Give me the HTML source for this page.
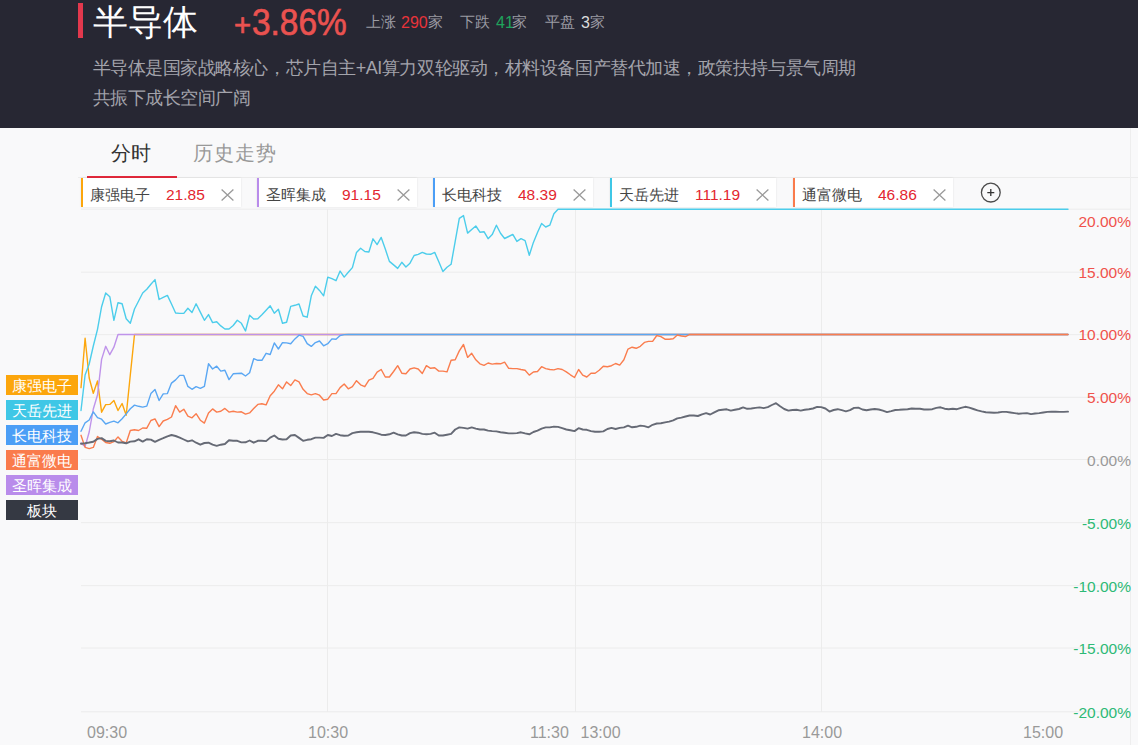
<!DOCTYPE html>
<html><head><meta charset="utf-8">
<style>
html,body{margin:0;padding:0}
body{width:1138px;height:745px;overflow:hidden;background:#f9f9fa;position:relative;font-family:"Liberation Sans",sans-serif}
.a{position:absolute;white-space:nowrap}
.hdr{position:absolute;left:0;top:0;width:1138px;height:128px;background:#272733}
.bar{position:absolute;left:78px;top:3px;width:4.7px;height:35px;background:#e2384d}
.title{left:93px;top:-2px;font-size:35px;line-height:48px;color:#fff}
.pct{left:234px;top:2px;font-size:35px;line-height:40px;color:#ea5250;-webkit-text-stroke:0.7px #ea5250;transform:scaleX(0.945);transform-origin:0 0}
.st{top:13px;font-size:15px;line-height:18px;color:#9b9ba3}
.desc{left:92.5px;top:52.8px;font-size:18px;letter-spacing:-0.45px;line-height:30px;color:#a3a3ab}
.tab{top:140px;font-size:20px;line-height:26px}
.ul{position:absolute;left:87px;top:175.5px;width:90px;height:2.5px;background:#e3293b}
.rowline{position:absolute;left:78px;top:177px;width:1060px;height:1px;background:#ececec}
.chip{position:absolute;top:178px;height:29px;background:#fff;box-shadow:0 0 2px rgba(0,0,0,0.10)}
.chip i{position:absolute;left:0;top:0;width:2px;height:29px}
.chip .n{position:absolute;top:8px;font-size:15px;line-height:18px;color:#444;white-space:nowrap}
.chip .p{position:absolute;top:7.5px;font-size:15.5px;line-height:18px;color:#e3262f;white-space:nowrap}
.chip svg{position:absolute;top:11px}
.vb{position:absolute;left:1130px;top:128px;width:1px;height:617px;background:#eeeeee}
.lg{position:absolute;left:6px;width:72px;height:19.5px;color:#fff;font-size:15px;line-height:21px;text-align:center}
.yl{position:absolute;right:7px;font-size:15.5px;line-height:18px;text-align:right}
.xl{position:absolute;top:723.5px;font-size:16px;line-height:18px;color:#999}
</style></head><body>
<div class="hdr"></div>
<div class="bar"></div>
<div class="a title">半导体</div>
<div class="a pct" style="left:233.5px;top:5.5px;font-size:31px">+</div><div class="a pct" style="left:251.5px;top:2.5px;font-size:36.5px;transform:scaleX(0.915)">3.86%</div>
<div class="a st" style="left:366px">上涨</div><div class="a st" style="top:13.7px;font-size:16px;left:401px;color:#e8333a">290</div><div class="a st" style="left:428px">家</div>
<div class="a st" style="left:460px">下跌</div><div class="a st" style="top:13.7px;font-size:16px;left:496px;color:#1fa35c">41</div><div class="a st" style="left:512px">家</div>
<div class="a st" style="left:545px">平盘</div><div class="a st" style="top:13.7px;font-size:16px;left:581px;color:#dcdcdc">3</div><div class="a st" style="left:590px">家</div>
<div class="a desc">半导体是国家战略核心，芯片自主+AI算力双轮驱动，材料设备国产替代加速，政策扶持与景气周期<br>共振下成长空间广阔</div>

<div class="a tab" style="left:111px;color:#333">分时</div>
<div class="a tab" style="left:193px;color:#999;letter-spacing:1px">历史走势</div>
<div class="rowline"></div>
<div class="ul"></div>

<div class="chip" style="left:81px;width:160px"><i style="background:#fca60c"></i><span class="n" style="left:9px">康强电子</span><span class="p" style="left:85px">21.85</span><svg style="left:140px" width="13" height="12" viewBox="0 0 13 12"><path d="M0.6 0.5L12.4 11.5M12.4 0.5L0.6 11.5" stroke="#9a9a9a" stroke-width="1.3" fill="none"/></svg></div>
<div class="chip" style="left:257px;width:160px"><i style="background:#b98ceb"></i><span class="n" style="left:9px">圣晖集成</span><span class="p" style="left:85px">91.15</span><svg style="left:140px" width="13" height="12" viewBox="0 0 13 12"><path d="M0.6 0.5L12.4 11.5M12.4 0.5L0.6 11.5" stroke="#9a9a9a" stroke-width="1.3" fill="none"/></svg></div>
<div class="chip" style="left:433px;width:160px"><i style="background:#4b9ef6"></i><span class="n" style="left:9px">长电科技</span><span class="p" style="left:85px">48.39</span><svg style="left:140px" width="13" height="12" viewBox="0 0 13 12"><path d="M0.6 0.5L12.4 11.5M12.4 0.5L0.6 11.5" stroke="#9a9a9a" stroke-width="1.3" fill="none"/></svg></div>
<div class="chip" style="left:610px;width:166px"><i style="background:#3fc7e6"></i><span class="n" style="left:9px">天岳先进</span><span class="p" style="left:85px">111.19</span><svg style="left:146px" width="13" height="12" viewBox="0 0 13 12"><path d="M0.6 0.5L12.4 11.5M12.4 0.5L0.6 11.5" stroke="#9a9a9a" stroke-width="1.3" fill="none"/></svg></div>
<div class="chip" style="left:793px;width:160px"><i style="background:#fa7b4c"></i><span class="n" style="left:9px">通富微电</span><span class="p" style="left:85px">46.86</span><svg style="left:140px" width="13" height="12" viewBox="0 0 13 12"><path d="M0.6 0.5L12.4 11.5M12.4 0.5L0.6 11.5" stroke="#9a9a9a" stroke-width="1.3" fill="none"/></svg></div>
<svg class="a" style="left:980px;top:182px" width="22" height="22" viewBox="0 0 22 22"><circle cx="10.8" cy="10.6" r="9.4" stroke="#4a4a4a" stroke-width="1.3" fill="none"/><path d="M7.3 10.6H14.3M10.8 7.1V14.1" stroke="#333" stroke-width="1.3"/></svg>

<div class="vb"></div>
<svg class="a" style="left:0;top:0" width="1138" height="745">
<g stroke="#ececec" stroke-width="1" fill="none"><line x1="81" y1="209.2" x2="1130.5" y2="209.2"/><line x1="81" y1="272.2" x2="1130.5" y2="272.2"/><line x1="81" y1="334.7" x2="1130.5" y2="334.7"/><line x1="81" y1="397.3" x2="1130.5" y2="397.3"/><line x1="81" y1="459.5" x2="1130.5" y2="459.5"/><line x1="81" y1="522.7" x2="1130.5" y2="522.7"/><line x1="81" y1="585.7" x2="1130.5" y2="585.7"/><line x1="81" y1="648.0" x2="1130.5" y2="648.0"/><line x1="81" y1="711.8" x2="1130.5" y2="711.8"/><line x1="327.5" y1="209" x2="327.5" y2="712"/><line x1="575.5" y1="209" x2="575.5" y2="712"/><line x1="821.5" y1="209" x2="821.5" y2="712"/></g>
<g fill="none" stroke-width="1.4" stroke-linejoin="round" stroke-linecap="round"><path d="M81.0 387.6 L85.1 338.2 L89.2 378.0 L93.3 393.2 L97.5 381.0 L101.6 412.2 L105.7 404.6 L109.8 404.4 L113.9 400.6 L118.0 410.5 L122.1 403.5 L126.2 415.3 L130.3 375.0 L134.5 334.5 L1068.0 334.5" stroke="#fca60c"/><path d="M81.0 443.0 L85.1 446.6 L89.2 432.0 L93.3 409.0 L97.5 395.0 L101.6 359.4 L105.7 346.3 L109.8 354.7 L113.9 347.2 L118.0 334.5 L1068.0 334.5" stroke="#bf93ea"/><path d="M81.0 431.3 L85.1 422.8 L89.2 420.0 L93.3 411.9 L97.5 417.6 L101.6 419.2 L105.7 424.0 L109.8 422.4 L113.9 421.2 L118.0 422.8 L122.1 418.8 L126.2 413.9 L130.3 408.7 L134.5 405.1 L138.6 406.3 L142.7 407.1 L146.8 406.1 L150.9 393.6 L155.0 389.6 L159.1 400.5 L163.2 393.9 L167.4 393.6 L171.5 383.1 L175.6 379.9 L179.7 375.4 L183.8 375.4 L187.9 386.4 L192.0 389.3 L196.1 386.7 L200.3 388.3 L204.4 386.4 L208.5 363.8 L212.6 369.0 L216.7 366.2 L220.8 371.1 L224.9 370.3 L229.0 379.6 L233.2 373.8 L237.3 373.5 L241.4 373.2 L245.5 376.0 L249.6 372.8 L253.7 358.7 L257.8 360.3 L261.9 360.3 L266.1 353.3 L270.2 354.5 L274.3 342.9 L278.4 349.0 L282.5 342.6 L286.6 342.9 L290.7 343.7 L294.9 338.9 L299.0 335.2 L303.1 336.4 L307.2 343.7 L311.3 346.4 L315.4 342.6 L319.5 341.0 L323.6 345.8 L327.8 343.7 L331.9 338.9 L336.0 339.3 L340.1 335.6 L344.2 334.6 L348.3 334.5 L1068.0 334.5" stroke="#5aa7f3"/><path d="M81.0 435.3 L85.1 447.4 L89.2 448.6 L93.3 447.4 L97.5 436.5 L101.6 439.3 L105.7 442.5 L109.8 443.3 L113.9 441.7 L118.0 436.9 L122.1 441.3 L126.2 443.0 L130.3 430.5 L134.5 429.8 L138.6 430.5 L142.7 428.0 L146.8 428.2 L150.9 420.5 L155.0 418.9 L159.1 426.6 L163.2 421.0 L167.4 419.4 L171.5 417.0 L175.6 405.7 L179.7 412.1 L183.8 409.2 L187.9 416.2 L192.0 417.8 L196.1 413.7 L200.3 420.2 L204.4 423.1 L208.5 412.9 L212.6 408.9 L216.7 412.1 L220.8 411.3 L224.9 408.4 L229.0 412.1 L233.2 411.3 L237.3 412.1 L241.4 411.8 L245.5 414.1 L249.6 412.9 L253.7 408.6 L257.8 404.4 L261.9 403.8 L266.1 404.9 L270.2 395.7 L274.3 391.2 L278.4 384.8 L282.5 388.8 L286.6 381.9 L290.7 385.6 L294.9 379.9 L299.0 381.9 L303.1 389.3 L307.2 393.6 L311.3 394.9 L315.4 393.6 L319.5 395.2 L323.6 400.0 L327.8 399.2 L331.9 393.6 L336.0 393.6 L340.1 387.6 L344.2 384.0 L348.3 388.8 L352.4 386.7 L356.5 380.7 L360.6 384.8 L364.8 386.7 L368.9 380.2 L373.0 378.3 L377.1 372.2 L381.2 369.5 L385.3 377.0 L389.4 377.0 L393.6 371.5 L397.7 365.7 L401.8 373.2 L405.9 373.8 L410.0 369.0 L414.1 367.8 L418.2 369.0 L422.3 373.5 L426.4 365.7 L430.6 368.3 L434.7 367.8 L438.8 371.1 L442.9 371.1 L447.0 371.9 L451.1 360.3 L455.2 359.8 L459.3 350.9 L463.5 344.5 L467.6 357.4 L471.7 353.3 L475.8 359.8 L479.9 363.8 L484.0 365.4 L488.1 363.0 L492.2 364.1 L496.4 363.5 L500.5 363.8 L504.6 362.2 L508.7 368.3 L512.8 368.6 L516.9 368.6 L521.0 369.5 L525.1 370.3 L529.3 375.1 L533.4 372.0 L537.5 371.5 L541.6 366.7 L545.7 368.6 L549.8 369.5 L553.9 369.9 L558.0 368.6 L562.2 369.5 L566.3 371.9 L570.4 374.8 L574.5 377.5 L578.6 369.5 L582.7 375.1 L586.8 377.0 L591.0 373.2 L595.1 373.2 L599.2 370.3 L603.3 366.2 L607.4 366.7 L611.5 365.7 L615.6 363.5 L619.7 365.1 L623.9 359.7 L628.0 349.1 L632.1 347.2 L636.2 348.3 L640.3 346.3 L644.4 342.4 L648.5 341.4 L652.6 341.4 L656.8 335.5 L660.9 336.6 L665.0 339.2 L669.1 339.2 L673.2 338.7 L677.3 335.0 L681.4 336.0 L685.5 336.6 L689.6 334.5 L1068.0 334.5" stroke="#fa7d4e"/><path d="M81.0 410.5 L85.1 375.0 L89.2 364.0 L93.3 346.0 L97.5 329.3 L101.6 306.7 L105.7 293.0 L109.8 296.7 L113.9 320.4 L118.0 302.7 L122.1 303.8 L126.2 318.8 L130.3 323.3 L134.5 309.0 L138.6 301.0 L142.7 293.0 L146.8 289.3 L150.9 284.2 L155.0 279.6 L159.1 299.5 L163.2 297.4 L167.4 295.4 L171.5 304.0 L175.6 313.0 L179.7 313.4 L183.8 313.4 L187.9 308.3 L192.0 312.5 L196.1 303.8 L200.3 312.1 L204.4 320.3 L208.5 314.6 L212.6 322.6 L216.7 321.7 L220.8 325.9 L224.9 329.0 L229.0 329.0 L233.2 325.5 L237.3 320.3 L241.4 323.3 L245.5 331.0 L249.6 315.2 L253.7 319.0 L257.8 318.7 L261.9 314.8 L266.1 310.2 L270.2 305.8 L274.3 313.2 L278.4 309.3 L282.5 323.2 L286.6 322.2 L290.7 306.4 L294.9 305.3 L299.0 304.0 L303.1 316.0 L307.2 317.2 L311.3 295.8 L315.4 286.2 L319.5 290.4 L323.6 295.8 L327.8 277.1 L331.9 278.7 L336.0 280.7 L340.1 271.1 L344.2 277.1 L348.3 272.3 L352.4 267.6 L356.5 252.4 L360.6 248.2 L364.8 251.5 L368.9 252.0 L373.0 238.8 L377.1 244.6 L381.2 237.4 L385.3 249.1 L389.4 261.4 L393.6 264.9 L397.7 268.4 L401.8 262.3 L405.9 267.0 L410.0 263.2 L414.1 255.5 L418.2 254.3 L422.3 252.4 L426.4 254.0 L430.6 254.3 L434.7 252.4 L438.8 261.8 L442.9 271.5 L447.0 267.3 L451.1 264.3 L455.2 241.4 L459.3 218.3 L463.5 215.6 L467.6 233.1 L471.7 229.5 L475.8 226.0 L479.9 232.2 L484.0 231.7 L488.1 238.7 L492.2 234.6 L496.4 225.2 L500.5 233.3 L504.6 238.5 L508.7 236.5 L512.8 234.4 L516.9 241.4 L521.0 238.7 L525.1 240.6 L529.3 255.3 L533.4 242.4 L537.5 232.5 L541.6 223.5 L545.7 227.0 L549.8 225.2 L553.9 213.8 L558.0 209.2 L1068.0 209.2" stroke="#4ccdeb"/><path d="M81.0 443.8 L85.1 443.2 L89.2 442.5 L93.3 441.7 L97.5 438.9 L101.6 438.1 L105.7 440.9 L109.8 441.3 L113.9 440.5 L118.0 442.5 L122.1 442.5 L126.2 443.3 L130.3 441.6 L134.5 441.3 L138.6 439.3 L142.7 441.6 L146.8 439.2 L150.9 439.6 L155.0 441.8 L159.1 439.8 L163.2 438.2 L167.4 436.3 L171.5 435.0 L175.6 436.0 L179.7 437.6 L183.8 439.5 L187.9 441.4 L192.0 440.3 L196.1 442.7 L200.3 444.7 L204.4 443.0 L208.5 442.7 L212.6 444.7 L216.7 445.9 L220.8 444.7 L224.9 444.0 L229.0 440.3 L233.2 440.8 L237.3 440.8 L241.4 442.4 L245.5 442.3 L249.6 440.5 L253.7 442.7 L257.8 440.8 L261.9 440.8 L266.1 441.1 L270.2 437.6 L274.3 435.5 L278.4 438.7 L282.5 439.5 L286.6 439.2 L290.7 435.5 L294.9 435.0 L299.0 437.9 L303.1 440.8 L307.2 439.8 L311.3 439.2 L315.4 437.6 L319.5 437.6 L323.6 437.9 L327.8 435.0 L331.9 436.0 L336.0 433.9 L340.1 435.2 L344.2 435.8 L348.3 435.5 L352.4 433.1 L356.5 432.3 L360.6 431.8 L364.8 431.8 L368.9 431.8 L373.0 432.3 L377.1 433.4 L381.2 434.7 L385.3 435.0 L389.4 434.3 L393.6 432.7 L397.7 434.3 L401.8 435.5 L405.9 435.5 L410.0 433.1 L414.1 432.3 L418.2 432.7 L422.3 433.9 L426.4 434.3 L430.6 433.9 L434.7 432.7 L438.8 435.5 L442.9 435.5 L447.0 434.7 L451.1 433.9 L455.2 429.5 L459.3 427.4 L463.5 427.9 L467.6 428.6 L471.7 427.4 L475.8 428.6 L479.9 429.5 L484.0 429.5 L488.1 430.6 L492.2 431.1 L496.4 431.4 L500.5 432.3 L504.6 432.7 L508.7 433.4 L512.8 433.4 L516.9 433.1 L521.0 432.3 L525.1 433.4 L529.3 434.3 L533.4 432.0 L537.5 430.6 L541.6 428.6 L545.7 427.4 L549.8 427.4 L553.9 426.6 L558.0 426.9 L562.2 428.2 L566.3 429.5 L570.4 430.2 L574.5 431.1 L578.6 428.2 L582.7 429.5 L586.8 429.8 L591.0 431.1 L595.1 431.8 L599.2 431.8 L603.3 431.4 L607.4 429.0 L611.5 427.9 L615.6 429.0 L619.7 427.9 L623.9 427.4 L628.0 425.7 L632.1 427.3 L636.2 426.8 L640.3 425.6 L644.4 426.1 L648.5 427.3 L652.6 424.8 L656.8 423.5 L660.9 423.2 L665.0 422.4 L669.1 421.6 L673.2 420.3 L677.3 418.4 L681.4 417.6 L685.5 416.5 L689.6 415.5 L693.8 415.5 L697.9 416.0 L702.0 414.4 L706.1 413.2 L710.2 414.5 L714.3 412.4 L718.4 410.3 L722.5 409.8 L726.7 409.3 L730.8 410.6 L734.9 409.8 L739.0 409.0 L743.1 407.4 L747.2 408.8 L751.3 408.5 L755.4 407.9 L759.6 407.4 L763.7 408.1 L767.8 407.1 L771.9 405.0 L776.0 403.2 L780.1 406.3 L784.2 409.0 L788.4 410.6 L792.5 410.0 L796.6 409.8 L800.7 410.6 L804.8 409.8 L808.9 409.3 L813.0 408.5 L817.1 406.9 L821.2 407.1 L825.4 408.5 L829.5 411.6 L833.6 410.0 L837.7 409.2 L841.8 410.2 L845.9 411.3 L850.0 410.2 L854.1 407.9 L858.3 407.7 L862.4 409.5 L866.5 410.2 L870.6 409.5 L874.7 409.0 L878.8 409.5 L882.9 410.6 L887.0 412.1 L891.2 411.1 L895.3 410.0 L899.4 409.8 L903.5 409.5 L907.6 409.2 L911.7 408.5 L915.8 408.8 L919.9 408.8 L924.1 409.5 L928.2 409.5 L932.3 409.2 L936.4 407.9 L940.5 407.3 L944.6 408.7 L948.7 409.2 L952.8 408.7 L957.0 409.2 L961.1 407.8 L965.2 406.8 L969.3 407.6 L973.4 409.0 L977.5 410.4 L981.6 411.4 L985.8 412.3 L989.9 412.5 L994.0 412.8 L998.1 412.5 L1002.2 411.9 L1006.3 411.9 L1010.4 412.5 L1014.5 413.1 L1018.6 413.7 L1022.8 413.4 L1026.9 413.1 L1031.0 414.1 L1035.1 413.5 L1039.2 413.1 L1043.3 412.5 L1047.4 411.9 L1051.5 411.7 L1055.7 411.7 L1059.8 411.9 L1063.9 411.9 L1068.0 411.6" stroke="#666a75" stroke-width="1.9"/></g>
</svg>

<div class="lg" style="top:375px;background:#fca60c">康强电子</div>
<div class="lg" style="top:400px;background:#3fc7e6">天岳先进</div>
<div class="lg" style="top:425px;background:#4b9ef6">长电科技</div>
<div class="lg" style="top:450px;background:#fa7b4c">通富微电</div>
<div class="lg" style="top:475px;background:#b98ceb">圣晖集成</div>
<div class="lg" style="top:500px;background:#353943">板块</div>

<div class="yl" style="top:212.5px;color:#f0524c">20.00%</div>
<div class="yl" style="top:263.5px;color:#f0524c">15.00%</div>
<div class="yl" style="top:325.5px;color:#f0524c">10.00%</div>
<div class="yl" style="top:388.5px;color:#f0524c">5.00%</div>
<div class="yl" style="top:451.5px;color:#999">0.00%</div>
<div class="yl" style="top:514.5px;color:#2dba76">-5.00%</div>
<div class="yl" style="top:577.5px;color:#2dba76">-10.00%</div>
<div class="yl" style="top:639.5px;color:#2dba76">-15.00%</div>
<div class="yl" style="top:703.5px;color:#2dba76">-20.00%</div>

<div class="xl" style="left:87px">09:30</div>
<div class="xl" style="left:308px">10:30</div>
<div class="xl" style="left:530px">11:30</div>
<div class="xl" style="left:580.5px">13:00</div>
<div class="xl" style="left:802px">14:00</div>
<div class="xl" style="left:1023px">15:00</div>
</body></html>
